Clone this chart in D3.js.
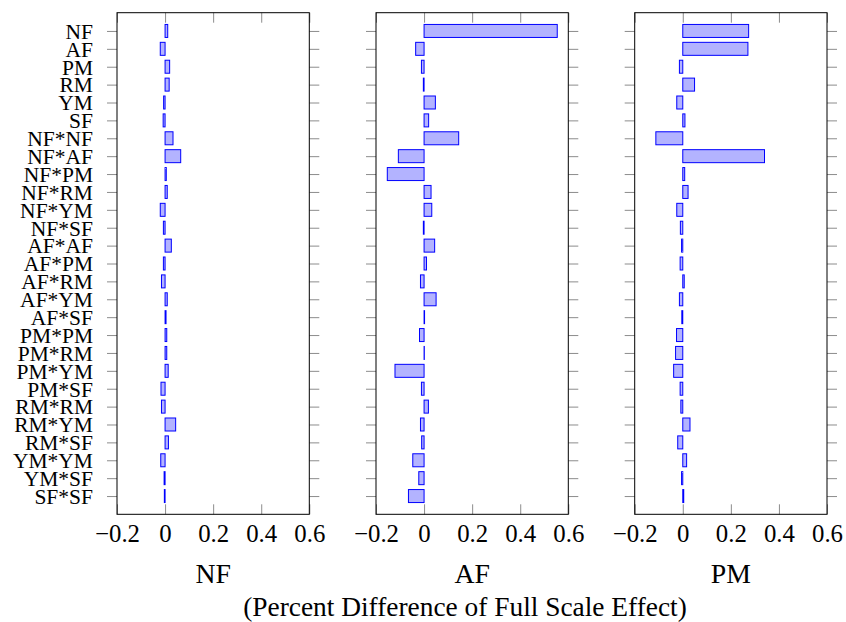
<!DOCTYPE html>
<html>
<head>
<meta charset="utf-8">
<script src="https://cdn.jsdelivr.net/npm/d3@7"></script>
<style>
html,body{margin:0;padding:0;background:#fff;}
svg{display:block;}
svg text{font-family:"Liberation Serif","DejaVu Serif",serif;}
</style>
</head>
<body>
<svg id="chart" width="846" height="622"></svg>
<script>
const categories = ["NF","AF","PM","RM","YM","SF","NF*NF","NF*AF","NF*PM","NF*RM","NF*YM","NF*SF",
  "AF*AF","AF*PM","AF*RM","AF*YM","AF*SF","PM*PM","PM*RM","PM*YM","PM*SF","RM*RM","RM*YM","RM*SF",
  "YM*YM","YM*SF","SF*SF"];
const nfValues = [0.011,-0.020,0.019,0.017,-0.006,-0.008,0.033,0.065,0.005,0.009,-0.020,-0.007,
  0.026,-0.007,-0.015,0.009,0.004,0.007,0.007,0.013,-0.017,-0.015,0.044,0.014,-0.018,-0.004,-0.003];
const afValues = [0.554,-0.035,-0.011,-0.003,0.047,0.019,0.144,-0.107,-0.153,0.029,0.032,-0.003,
  0.044,0.010,-0.015,0.050,0.002,-0.019,0.001,-0.121,-0.011,0.018,-0.015,-0.010,-0.047,-0.022,-0.065];
const pmValues = [0.274,0.271,-0.014,0.049,-0.025,0.009,-0.112,0.340,0.008,0.022,-0.025,-0.010,
  -0.005,-0.011,0.006,-0.014,-0.004,-0.026,-0.030,-0.038,-0.011,-0.008,0.030,-0.021,0.016,-0.005,0.004];
const panelTitles = ["NF","AF","PM"];
const xTicks = [-0.2,0,0.2,0.4,0.6];
const xDomain = [-0.2,0.6];
const axisTitle = "(Percent Difference of Full Scale Effect)";

const series = [nfValues, afValues, pmValues];
const svg = d3.select("#chart");
const plotTop = 12.7, plotBottom = 514.3, panelW = 192.3;
const panelLefts = [117, 376, 634.7];
const tickColor = "#8c8c8c";

// size a font so that a sample string has a given width
function fitSize(sample, targetW) {
  const t = svg.append("text").attr("font-size", 100).text(sample);
  const w = t.node().getComputedTextLength();
  t.remove();
  return 100 * targetW / w;
}
const yLabelSize = Math.min(21.5, fitSize("NF*NF", 67));
const tickSize = Math.min(26, fitSize("0.2", 31));
const panelTitleSize = Math.min(29, fitSize("AF", 35.5));
const titleSize = Math.min(28, fitSize(axisTitle, 444));

const y = d3.scalePoint().domain(categories).range([plotTop, plotBottom]).padding(1.02);
const barH = 13;

series.forEach((vals, p) => {
  const x0 = panelLefts[p];
  const x = d3.scaleLinear().domain(xDomain).range([x0, x0 + panelW]);
  const g = svg.append("g");

  // y ticks left
  const yl = g.append("g").attr("transform", `translate(${x0},0)`)
    .call(d3.axisLeft(y).tickSize(10).tickPadding(14));
  yl.attr("font-family", null).attr("font-size", null);
  yl.select(".domain").remove();
  yl.selectAll("line").attr("stroke", tickColor).attr("stroke-width", 1);
  if (p === 0) {
    yl.selectAll("text").attr("font-size", yLabelSize).attr("fill", "#000").attr("dy", "0.34em");
  } else {
    yl.selectAll("text").remove();
  }
  // y ticks right
  const yr = g.append("g").attr("transform", `translate(${x0 + panelW},0)`)
    .call(d3.axisRight(y).tickSize(10));
  yr.select(".domain").remove();
  yr.selectAll("text").remove();
  yr.selectAll("line").attr("stroke", tickColor).attr("stroke-width", 1);

  // x ticks inside top
  const xt = g.append("g").attr("transform", `translate(0,${plotTop})`)
    .call(d3.axisBottom(x).tickValues(xTicks).tickSize(10));
  xt.select(".domain").remove();
  xt.selectAll("text").remove();
  xt.selectAll("line").attr("stroke", tickColor);
  // x ticks inside bottom
  const xb = g.append("g").attr("transform", `translate(0,${plotBottom})`)
    .call(d3.axisTop(x).tickValues(xTicks).tickSize(10));
  xb.select(".domain").remove();
  xb.selectAll("text").remove();
  xb.selectAll("line").attr("stroke", tickColor);
  // x tick labels
  const xl = g.append("g").attr("transform", `translate(0,${plotBottom})`)
    .call(d3.axisBottom(x).tickValues(xTicks).tickSize(0).tickPadding(0)
      .tickFormat(d => d === 0 ? "0" : d3.format(".1f")(d)));
  xl.attr("font-family", null).attr("font-size", null);
  xl.select(".domain").remove();
  xl.selectAll("text").attr("font-size", tickSize).attr("fill", "#000")
    .attr("y", 27.4).attr("dy", null);

  // bars
  g.append("g").selectAll("rect").data(categories).join("rect")
    .attr("x", (c, i) => Math.min(x(0), x(vals[i])))
    .attr("width", (c, i) => Math.abs(x(vals[i]) - x(0)))
    .attr("y", c => y(c) - barH / 2)
    .attr("height", barH)
    .attr("fill", "#b3b3ff")
    .attr("stroke", "#0000ff")
    .attr("stroke-width", 1);

  // frame
  g.append("rect").attr("x", x0).attr("y", plotTop).attr("width", panelW).attr("height", plotBottom - plotTop)
    .attr("fill", "none").attr("stroke", "#000").attr("stroke-width", 1);

  // panel title
  g.append("text").attr("x", x0 + panelW / 2).attr("y", 582.5)
    .attr("text-anchor", "middle").attr("font-size", panelTitleSize).attr("fill", "#000")
    .text(panelTitles[p]);
});

svg.append("text").attr("x", 465).attr("y", 616)
  .attr("text-anchor", "middle").attr("font-size", titleSize).attr("fill", "#000")
  .text(axisTitle);
</script>
</body>
</html>
